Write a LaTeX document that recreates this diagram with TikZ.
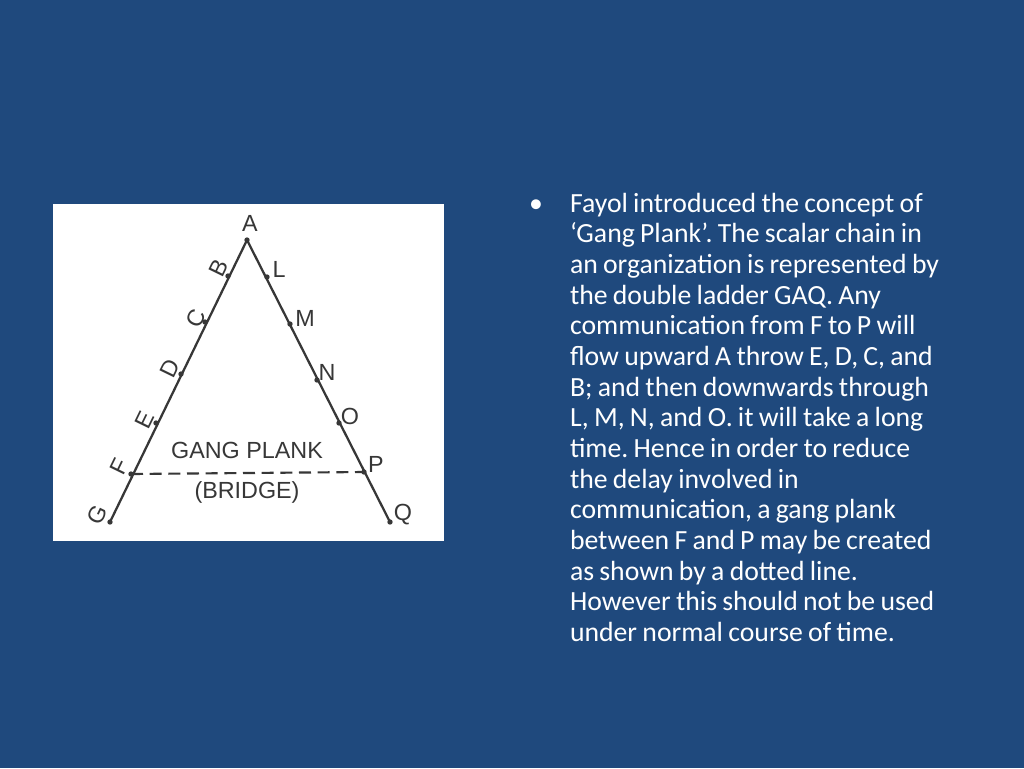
\documentclass[tikz,border=0pt]{standalone}
\usepackage{fontspec}
\setmainfont{Carlito}
\newfontfamily\labelfont{Liberation Sans}
\usepackage{tikz}
\usetikzlibrary{positioning}
\definecolor{slideblue}{RGB}{31,73,125}
\definecolor{inkgray}{RGB}{55,55,55}
\frenchspacing

\begin{document}
\begin{tikzpicture}[x=0.75pt, y=-0.75pt,
    every node/.style={inner sep=0pt, outer sep=0pt},
    dot/.style={circle, fill=inkgray, minimum size=4pt},
    lbl/.style={text=inkgray, font=\labelfont\fontsize{17.5}{19}\selectfont},
    leftlbl/.style={lbl, rotate=64},
    ladder/.style={inkgray, line width=1.7pt},
    plank/.style={inkgray, line width=1.6pt, dash pattern=on 9pt off 5pt},
    slidetext/.style={text=white, font=\fontsize{20.8}{23}\selectfont}]
        \useasboundingbox (0,0) rectangle (1024,768);
        \fill[slideblue] (0,0) rectangle (1024,768);
        \fill[white] (53,204) rectangle (444,541);
        \node[dot] (A) at (247,240) {};
        \node[dot] (B) at (228,276) {};
        \node[dot] (C) at (205,322) {};
        \node[dot] (D) at (181,374) {};
        \node[dot] (E) at (156,423) {};
        \node[dot] (F) at (131,474) {};
        \node[dot] (G) at (110,522) {};
        \node[dot] (L) at (267,277) {};
        \node[dot] (M) at (290,324) {};
        \node[dot] (N) at (317,380) {};
        \node[dot] (O) at (339,423) {};
        \node[dot] (P) at (364,472) {};
        \node[dot] (Q) at (390,522) {};
        \node[lbl] (labelA) at (250,223) {A};
        \node[leftlbl] (labelB) at (219,268) {B};
        \node[leftlbl] (labelC) at (196,318) {C};
        \node[leftlbl] (labelD) at (170,368) {D};
        \node[leftlbl] (labelE) at (145,420) {E};
        \node[leftlbl] (labelF) at (119,467) {F};
        \node[leftlbl] (labelG) at (97,515) {G};
        \node[lbl] (labelL) at (279,269) {L};
        \node[lbl] (labelM) at (305,318) {M};
        \node[lbl] (labelN) at (327,372) {N};
        \node[lbl] (labelO) at (350,416) {O};
        \node[lbl] (labelP) at (376,464) {P};
        \node[lbl] (labelQ) at (403,515) {Q};
        \node[lbl] (plank) at (247,450) {GANG PLANK};
        \node[lbl] (bridge) at (247,492) {(BRIDGE)};
        \draw[ladder] (A.center) -- (G.center);
        \draw[ladder] (A.center) -- (Q.center);
        \draw[plank] (F.center) -- (P.center);
        \node[slidetext, anchor=base] (bullet) at (536,212) {•};
        \node[slidetext, anchor=base west, text width=310pt, align=left] (body) at (570,212) {\spaceskip=0.19em plus 0.05em\relax
Fayol introduced the concept of\\
‘Gang Plank’. The scalar chain in\\
an organization is represented by\\
the double ladder GAQ. Any\\
communication from F to P will\\
flow upward A throw E, D, C, and\\
B; and then downwards through\\
L, M, N, and O. it will take a long\\
time. Hence in order to reduce\\
the delay involved in\\
communication, a gang plank\\
between F and P may be created\\
as shown by a dotted line.\\
However this should not be used\\
under normal course of time.};
    \end{tikzpicture}
\end{document}
